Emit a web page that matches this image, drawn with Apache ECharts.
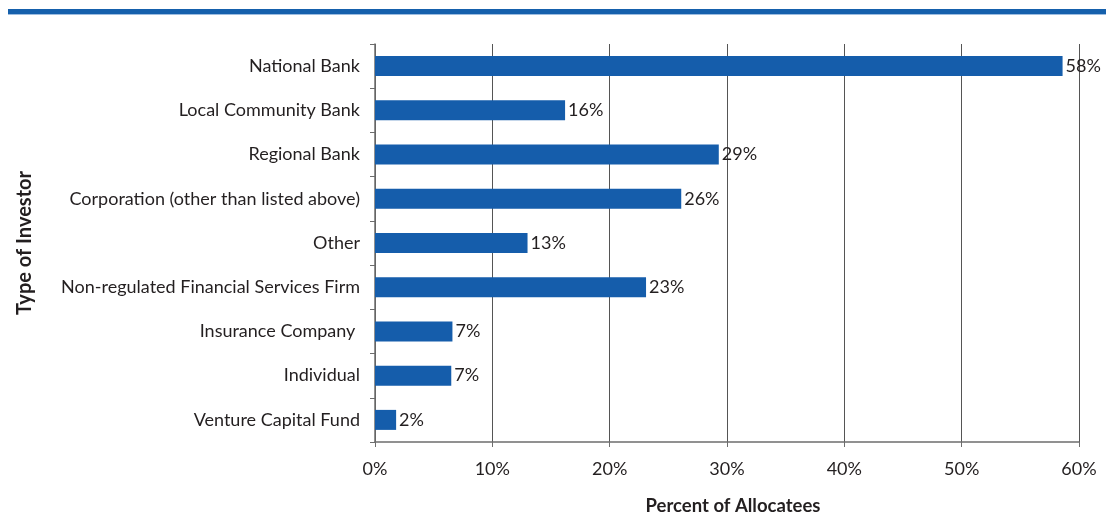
<!DOCTYPE html>
<html>
<head>
<meta charset="utf-8">
<script src="https://cdn.jsdelivr.net/npm/echarts@6/dist/echarts.min.js"></script>
<style>html,body{margin:0;padding:0;background:#fff;}#c{width:1106px;height:514px;}</style>
</head>
<body>
<div id="c"></div>
<script>
const categories = ['National Bank','Local Community Bank','Regional Bank','Corporation (other than listed above)','Other','Non-regulated Financial Services Firm','Insurance Company ','Individual','Venture Capital Fund'];
const values = [58.6, 16.2, 29.3, 26.1, 13.0, 23.1, 6.6, 6.5, 1.8];
const valueLabels = ['58%','16%','29%','26%','13%','23%','7%','7%','2%'];
const xTicks = [0, 10, 20, 30, 40, 50, 60];

const FONT = 'Lato';
const chart = echarts.init(document.getElementById('c'), null, {renderer: 'canvas'});
chart.setOption({
  animation: false,
  backgroundColor: '#fff',
  textStyle: {fontFamily: FONT},
  graphic: [
    {type: 'rect', shape: {x: 8, y: 9, width: 1098, height: 5}, style: {fill: '#1560ac'}},
    {type: 'rect', shape: {x: 8, y: 14, width: 1098, height: 1}, style: {fill: '#9dbde0'}}
  ],
  grid: {left: 375, right: 27, top: 44, bottom: 72, containLabel: false, outerBoundsMode: 'none'},
  xAxis: {
    type: 'value',
    min: xTicks[0], max: xTicks[xTicks.length - 1], interval: xTicks[1] - xTicks[0],
    name: 'Percent of Allocatees',
    nameLocation: 'middle', nameGap: 55,
    nameTextStyle: {fontFamily: FONT, fontSize: 18.5, fontWeight: 'bold', color: '#231f20', padding: [0, 0, 0, 12]},
    axisLine: {show: true, lineStyle: {color: '#6d6d6d', width: 1.5}},
    axisTick: {show: true, length: 5, lineStyle: {color: '#6d6d6d'}},
    axisLabel: {formatter: '{value}%', fontFamily: FONT, fontSize: 18, color: '#231f20', margin: 18},
    splitLine: {show: true, lineStyle: {color: '#555', width: 1}}
  },
  yAxis: {
    type: 'category',
    data: categories,
    inverse: true,
    name: 'Type of Investor',
    nameLocation: 'middle', nameGap: 340, nameRotate: 90,
    nameTextStyle: {fontFamily: FONT, fontSize: 20, fontWeight: 'bold', color: '#231f20'},
    axisLine: {show: true, lineStyle: {color: '#6d6d6d', width: 1.5}},
    axisTick: {show: true, length: 5, alignWithLabel: false, lineStyle: {color: '#6d6d6d'}},
    axisLabel: {fontFamily: FONT, fontSize: 18, color: '#231f20', margin: 15}
  },
  series: [{
    type: 'bar',
    data: values,
    barWidth: 20,
    itemStyle: {color: '#155dab'},
    label: {
      show: true, position: 'right', distance: 3,
      fontFamily: FONT, fontSize: 18, color: '#231f20',
      formatter: p => valueLabels[p.dataIndex]
    }
  }]
});
</script>
</body>
</html>
